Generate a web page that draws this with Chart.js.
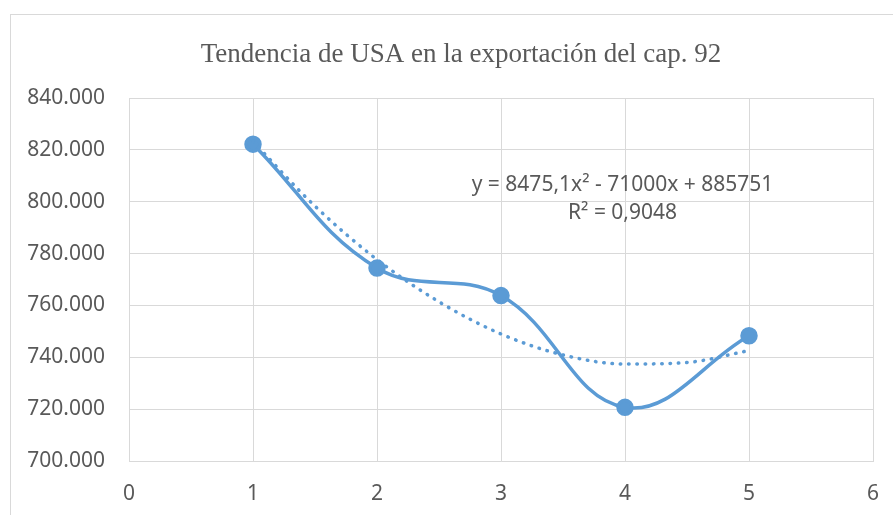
<!DOCTYPE html>
<html>
<head>
<meta charset="utf-8">
<script src="https://cdn.jsdelivr.net/npm/chart.js@4/dist/chart.umd.min.js"></script>
<style>
  body { margin: 0; background: #fff; }
  #wrap { position: relative; width: 893px; height: 515px; overflow: hidden; }
  #frame { position: absolute; left: 10px; top: 14px; width: 900px; height: 520px; border: 1px solid #d9d9d9; box-sizing: border-box; }
  canvas { position: absolute; left: 0; top: 0; }
</style>
</head>
<body>
<div id="wrap">
  <div id="frame"></div>
  <canvas id="chart" width="893" height="515"></canvas>
</div>
<script>
// USA exports, chapter 92
const years = [1, 2, 3, 4, 5];
const usaValues = [822200, 774400, 763800, 720700, 748300];

// polynomial trendline, sampled off the dotted curve
const trendX = [1, 1.5, 2, 2.5, 3, 3.5, 4, 4.5, 5];
const trendValues = [823200, 798300, 777700, 761400, 749000, 740900, 737400, 738000, 742600];

const xTicks = [0, 1, 2, 3, 4, 5, 6];
const yMin = 700000, yMax = 840000, yStep = 20000;

const titleText = 'Tendencia de USA en la exportación del cap. 92';
const trendText = ['y = 8475,1x² - 71000x + 885751', 'R² = 0,9048'];

const blue = '#5b9bd5';
const grey = '#595959';
const gridColor = '#d9d9d9';

function fmt(v) {
    return String(v).replace(/\B(?=(\d{3})+(?!\d))/g, '.');
}

// title (centred on the frame, not the plot) and the trendline equation
const extraText = {
    id: 'extraText',
    afterDatasetsDraw(chart) {
        const ctx = chart.ctx;
        ctx.save();
        ctx.fillStyle = grey;
        ctx.textAlign = 'center';
        ctx.textBaseline = 'middle';

        ctx.font = '27px "Liberation Serif"';
        ctx.fillText(titleText, 461, 55);

        const x = chart.scales.x.getPixelForValue(3.98);
        const y = chart.scales.y.getPixelForValue(806400);
        ctx.font = '21px "Noto Sans"';
        ctx.fillText(trendText[0], x, y);
        ctx.fillText(trendText[1], x, y + 28);
        ctx.restore();
    }
};

new Chart(document.getElementById('chart'), {
    type: 'scatter',
    data: {
        datasets: [
            {
                label: 'Tendencia',
                data: trendX.map((x, i) => ({ x: x, y: trendValues[i] })),
                showLine: true,
                borderColor: blue,
                borderWidth: 3.5,
                borderDash: [0.5, 7.8],
                borderCapStyle: 'round',
                cubicInterpolationMode: 'monotone',
                pointRadius: 0,
                order: 0
            },
            {
                label: 'USA',
                data: years.map((x, i) => ({ x: x, y: usaValues[i] })),
                showLine: true,
                borderColor: blue,
                borderWidth: 3.5,
                backgroundColor: blue,
                pointBackgroundColor: blue,
                pointBorderColor: blue,
                pointRadius: 7,
                tension: 0.4,
                order: 1
            }
        ]
    },
    options: {
        responsive: false,
        animation: false,
        layout: { padding: { left: 0, right: 20, top: 98, bottom: 0 } },
        plugins: {
            legend: { display: false },
            tooltip: { enabled: false },
            title: { display: false }
        },
        scales: {
            x: {
                type: 'linear',
                min: xTicks[0],
                max: xTicks[xTicks.length - 1],
                afterBuildTicks: (s) => { s.ticks = xTicks.map(v => ({ value: v })); },
                afterFit: (s) => { s.height = 54; s.paddingLeft = 0; s.paddingRight = 0; },
                grid: { color: gridColor, drawTicks: false },
                border: { color: gridColor },
                ticks: {
                    color: grey,
                    font: { family: '"Noto Sans"', size: 21 },
                    padding: 20
                }
            },
            y: {
                min: yMin,
                max: yMax,
                afterFit: (s) => { s.width = 129; s.paddingTop = 0; s.paddingBottom = 0; },
                grid: { color: gridColor, drawTicks: false },
                border: { color: gridColor },
                ticks: {
                    stepSize: yStep,
                    color: grey,
                    font: { family: '"Noto Sans"', size: 21 },
                    padding: 24,
                    callback: (v) => fmt(v)
                }
            }
        }
    },
    plugins: [extraText]
});
</script>
</body>
</html>
